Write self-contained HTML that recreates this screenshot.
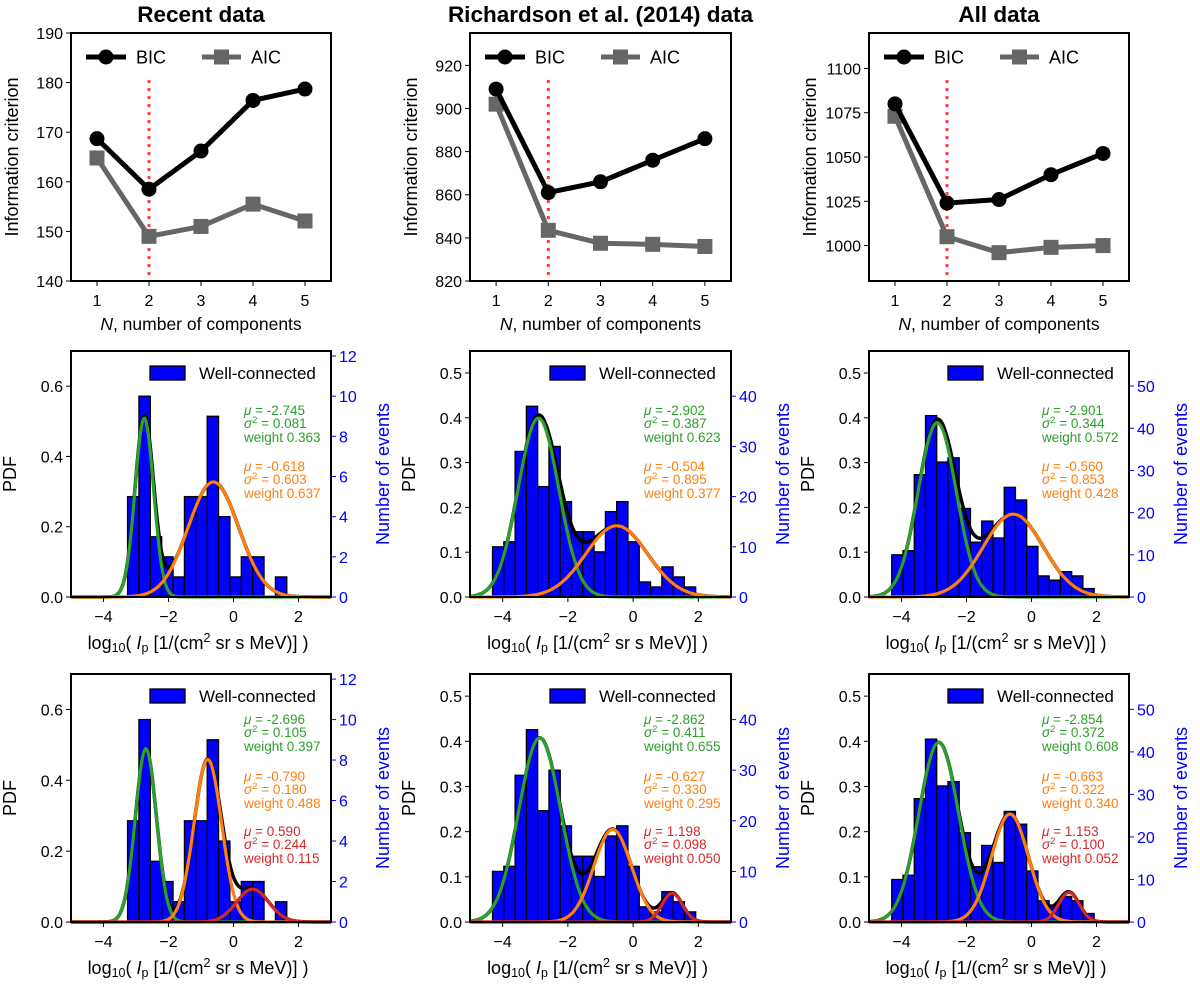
<!DOCTYPE html>
<html><head><meta charset="utf-8">
<style>
html,body{margin:0;padding:0;background:#fff;}
svg{display:block;font-family:"Liberation Sans",Arial,sans-serif;}
</style></head>
<body>
<svg id="fig" width="1200" height="985" viewBox="0 0 1200 985"></svg>
<script>
// ---------- data ----------
const titles = ["Recent data", "Richardson et al. (2014) data", "All data"];
const nComponents = [1, 2, 3, 4, 5];
const bicRecent = [168.7, 158.5, 166.2, 176.4, 178.7];
const aicRecent = [164.8, 149.0, 151.0, 155.5, 152.1];
const bicRich = [909, 861, 866, 876, 886];
const aicRich = [902, 843.5, 837.5, 837, 836];
const bicAll = [1080, 1024, 1026, 1040, 1052];
const aicAll = [1073, 1005, 996, 999, 1000];
const icTicksRecent = [140, 150, 160, 170, 180, 190];
const icTicksRich = [820, 840, 860, 880, 900, 920];
const icTicksAll = [1000, 1025, 1050, 1075, 1100];
const icRangeRecent = [140, 190];
const icRangeRich = [820, 935];
const icRangeAll = [980, 1120];
const bestN = [2, 2, 2];

const countsRecent = [5, 10, 3, 2, 1, 5, 5, 9, 4, 1, 2, 2, 0, 1];
const countsRich = [10, 11, 29, 38, 22, 30, 19, 13, 13, 9, 17, 19, 11, 3, 2, 6, 4, 2];
const countsAll = [10, 11, 29, 43, 32, 33, 21, 13, 18, 14, 26, 23, 12, 5, 4, 6, 5, 2];
const binStart = [-3.26, -4.31, -4.30];
const binWidth = [0.35, 0.346, 0.346];
const pdfTicksRecent = [0.0, 0.2, 0.4, 0.6];
const pdfTicksOther = [0.0, 0.1, 0.2, 0.3, 0.4, 0.5];
const pdfMax = [0.70, 0.549, 0.549];
const countTicksRecent = [0, 2, 4, 6, 8, 10, 12];
const countTicksRich = [0, 10, 20, 30, 40];
const countTicksAll = [0, 10, 20, 30, 40, 50];
const xTicks = [-4, -2, 0, 2];

// 2-component fits: [mu, sigma2, weight]
const fit2Recent = [[-2.745, 0.081, 0.363], [-0.618, 0.603, 0.637]];
const fit2Rich = [[-2.902, 0.387, 0.623], [-0.504, 0.895, 0.377]];
const fit2All = [[-2.901, 0.344, 0.572], [-0.560, 0.853, 0.428]];
// 3-component fits
const fit3Recent = [[-2.696, 0.105, 0.397], [-0.790, 0.180, 0.488], [0.590, 0.244, 0.115]];
const fit3Rich = [[-2.862, 0.411, 0.655], [-0.627, 0.330, 0.295], [1.198, 0.098, 0.050]];
const fit3All = [[-2.854, 0.372, 0.608], [-0.663, 0.322, 0.340], [1.153, 0.100, 0.052]];
const compColors = ["#2ca02c", "#ff7f0e", "#d62728"];

// ---------- layout ----------
const colX = [[71, 331], [470, 731], [869, 1129]];
const rowY = [[33, 281], [351, 597], [674, 922]];

const svg = document.getElementById('fig');
const NS = 'http://www.w3.org/2000/svg';
function mk(tag, attrs, name, parent) {
  const el = document.createElementNS(NS, tag);
  for (const k in attrs) el.setAttribute(k, attrs[k]);
  
  
  (parent || svg).appendChild(el);
  return el;
}
function txt(x, y, s, attrs, name, parent) {
  const a = Object.assign({x: x, y: y}, attrs || {});
  const t = mk('text', a, name, parent);
  t.textContent = s;
  return t;
}
function lin(d0, d1, r0, r1) { return v => r0 + (v - d0) / (d1 - d0) * (r1 - r0); }

// ---------- top row ----------
const bicSets = [bicRecent, bicRich, bicAll];
const aicSets = [aicRecent, aicRich, aicAll];
const icTicks = [icTicksRecent, icTicksRich, icTicksAll];
const icRanges = [icRangeRecent, icRangeRich, icRangeAll];
for (let c = 0; c < 3; c++) {
  const [L, R] = colX[c]; const [T, B] = rowY[0];
  const g = mk('g', {}, 'ic-panel-' + (c + 1));
  const xs = lin(0.5, 5.5, L, R);
  const ys = lin(icRanges[c][0], icRanges[c][1], B, T);
  txt((L + R) / 2, 22, titles[c], {'font-size': 22.5, 'font-weight': 'bold', 'text-anchor': 'middle'}, 'column-title', g);
  icTicks[c].forEach(v => {
    mk('line', {x1: L - 5, x2: L, y1: ys(v), y2: ys(v), stroke: '#000', 'stroke-width': 1}, 'y-tick', g);
    txt(L - 8, ys(v) + 6, String(v), {'font-size': 16, 'text-anchor': 'end'}, 'y-tick-label', g);
  });
  nComponents.forEach(n => {
    mk('line', {x1: xs(n), x2: xs(n), y1: B, y2: B + 5, stroke: '#000', 'stroke-width': 1}, 'x-tick', g);
    txt(xs(n), B + 25, String(n), {'font-size': 16, 'text-anchor': 'middle'}, 'x-tick-label', g);
  });
  const xl = txt((L + R) / 2, B + 49, '', {'font-size': 17.5, 'text-anchor': 'middle'}, 'x-axis-title', g);
  xl.innerHTML = '<tspan font-style="italic">N</tspan>, number of components';
  const yx = L - 53;
  txt(yx, (T + B) / 2, 'Information criterion', {'font-size': 18, 'text-anchor': 'middle', transform: 'rotate(-90 ' + yx + ' ' + (T + B) / 2 + ')'}, 'y-axis-title', g);
  mk('line', {x1: xs(bestN[c]), x2: xs(bestN[c]), y1: T + 47, y2: B, stroke: '#ff3b3b', 'stroke-width': 3, 'stroke-dasharray': '3,5'}, 'best-n-marker', g);
  const pA = nComponents.map((n, i) => xs(n) + ',' + ys(aicSets[c][i])).join(' ');
  mk('polyline', {points: pA, fill: 'none', stroke: '#666', 'stroke-width': 5}, 'aic-line', g);
  nComponents.forEach((n, i) => {
    mk('rect', {x: xs(n) - 7.5, y: ys(aicSets[c][i]) - 7.5, width: 15, height: 15, fill: '#666'}, 'aic-point', g);
  });
  const pB = nComponents.map((n, i) => xs(n) + ',' + ys(bicSets[c][i])).join(' ');
  mk('polyline', {points: pB, fill: 'none', stroke: '#000', 'stroke-width': 5}, 'bic-line', g);
  nComponents.forEach((n, i) => {
    mk('circle', {cx: xs(n), cy: ys(bicSets[c][i]), r: 7.5, fill: '#000'}, 'bic-point', g);
  });
  const ly = T + 24;
  mk('line', {x1: L + 15, x2: L + 55, y1: ly, y2: ly, stroke: '#000', 'stroke-width': 5}, 'legend-bic-line', g);
  mk('circle', {cx: L + 35, cy: ly, r: 7.5, fill: '#000'}, 'legend-bic-marker', g);
  txt(L + 65, ly + 6.5, 'BIC', {'font-size': 18}, 'legend-bic-label', g);
  mk('line', {x1: L + 131, x2: L + 170, y1: ly, y2: ly, stroke: '#666', 'stroke-width': 5}, 'legend-aic-line', g);
  mk('rect', {x: L + 143, y: ly - 7.5, width: 15, height: 15, fill: '#666'}, 'legend-aic-marker', g);
  txt(L + 180, ly + 6.5, 'AIC', {'font-size': 18}, 'legend-aic-label', g);
  mk('rect', {x: L, y: T, width: R - L, height: B - T, fill: 'none', stroke: '#000', 'stroke-width': 2}, 'plot-frame', g);
}

// ---------- histogram rows ----------
const countSets = [countsRecent, countsRich, countsAll];
const pdfTicks = [pdfTicksRecent, pdfTicksOther, pdfTicksOther];
const countTicks = [countTicksRecent, countTicksRich, countTicksAll];
const fits = [[fit2Recent, fit2Rich, fit2All], [fit3Recent, fit3Rich, fit3All]];
const annTop = [[60, 116], [46, 103, 158]];
function gauss(x, m, s2) { return Math.exp(-(x - m) * (x - m) / (2 * s2)) / Math.sqrt(2 * Math.PI * s2); }

for (let r = 0; r < 2; r++) {
  for (let c = 0; c < 3; c++) {
    const [L, R] = colX[c]; const [T, B] = rowY[r + 1];
    const g = mk('g', {}, 'hist-panel-' + (r + 2) + '-' + (c + 1));
    const xs = lin(-5, 3, L, R);
    const ys = lin(0, pdfMax[c], B, T);
    const counts = countSets[c];
    const N = counts.reduce((a, b) => a + b, 0);
    const w = binWidth[c];
    counts.forEach((n, i) => {
      if (n === 0) return;
      const x0 = binStart[c] + i * w;
      const d = n / (N * w);
      mk('rect', {x: xs(x0), y: ys(d), width: xs(x0 + w) - xs(x0), height: B - ys(d), fill: '#0000ff', stroke: '#000', 'stroke-width': 1.3}, 'hist-bar', g);
    });
    const fit = fits[r][c];
    const ptsTot = [];
    const ptsC = fit.map(() => []);
    for (let k = 0; k <= 240; k++) {
      const x = -5 + 8 * k / 240;
      let tot = 0;
      fit.forEach((p, j) => { const v = p[2] * gauss(x, p[0], p[1]); tot += v; ptsC[j].push(xs(x).toFixed(1) + ',' + ys(v).toFixed(1)); });
      ptsTot.push(xs(x).toFixed(1) + ',' + ys(tot).toFixed(1));
    }
    mk('polyline', {points: ptsTot.join(' '), fill: 'none', stroke: '#000', 'stroke-width': 3.5}, 'total-fit-curve', g);
    fit.forEach((p, j) => {
      mk('polyline', {points: ptsC[j].join(' '), fill: 'none', stroke: compColors[j], 'stroke-width': 3.2}, 'component-curve-' + (j + 1), g);
    });
    pdfTicks[c].forEach(v => {
      mk('line', {x1: L - 5, x2: L, y1: ys(v), y2: ys(v), stroke: '#000'}, 'y-tick', g);
      txt(L - 8, ys(v) + 6, v.toFixed(1), {'font-size': 16, 'text-anchor': 'end'}, 'y-tick-label', g);
    });
    countTicks[c].forEach(v => {
      const yy = ys(v / (N * w));
      mk('line', {x1: R, x2: R + 5, y1: yy, y2: yy, stroke: '#0000ff'}, 'right-tick', g);
      txt(R + 8, yy + 6, String(v), {'font-size': 16, fill: '#0000ff'}, 'right-tick-label', g);
    });
    xTicks.forEach(v => {
      mk('line', {x1: xs(v), x2: xs(v), y1: B, y2: B + 5, stroke: '#000'}, 'x-tick', g);
      txt(xs(v), B + 25, v < 0 ? '\u2212' + Math.abs(v) : String(v), {'font-size': 16, 'text-anchor': 'middle'}, 'x-tick-label', g);
    });
    const xl = txt((L + R) / 2 - 3, B + 52, '', {'font-size': 18, 'text-anchor': 'middle'}, 'x-axis-title', g);
    xl.innerHTML = 'log<tspan font-size="12.5" dy="3">10</tspan><tspan dy="-3">( </tspan><tspan font-style="italic">I</tspan><tspan font-size="12.5" dy="3">p</tspan><tspan dy="-3"> [1/(cm</tspan><tspan font-size="12.5" dy="-7">2</tspan><tspan dy="7"> sr s MeV)] )</tspan>';
    const ly = L - 55;
    txt(ly, (T + B) / 2, 'PDF', {'font-size': 18, 'text-anchor': 'middle', transform: 'rotate(-90 ' + ly + ' ' + (T + B) / 2 + ')'}, 'y-axis-title', g);
    const ry = R + 58;
    txt(ry, (T + B) / 2, 'Number of events', {'font-size': 18, fill: '#0000ff', 'text-anchor': 'middle', transform: 'rotate(-90 ' + ry + ' ' + (T + B) / 2 + ')'}, 'right-axis-title', g);
    mk('rect', {x: R - 181, y: T + 15, width: 35, height: 14, fill: '#0000ff', stroke: '#000', 'stroke-width': 1.3}, 'legend-patch', g);
    txt(R - 132, T + 28, 'Well-connected', {'font-size': 17}, 'legend-label', g);
    fit.forEach((p, j) => {
      const y0 = T + annTop[r][j];
      const col = compColors[j];
      const t1 = txt(R - 87, y0 + 4, '', {'font-size': 13.5, fill: col}, 'fit-mu', g);
      t1.innerHTML = '<tspan font-style="italic">\u03bc</tspan> = ' + p[0].toFixed(3);
      const t2 = txt(R - 87, y0 + 17, '', {'font-size': 13.5, fill: col}, 'fit-sigma2', g);
      t2.innerHTML = '<tspan font-style="italic">\u03c3</tspan><tspan font-size="9.5" dy="-5">2</tspan><tspan dy="5"> = ' + p[1].toFixed(3) + '</tspan>';
      txt(R - 87, y0 + 31, 'weight ' + p[2].toFixed(3), {'font-size': 13.5, fill: col}, 'fit-weight', g);
    });
    mk('rect', {x: L, y: T, width: R - L, height: B - T, fill: 'none', stroke: '#000', 'stroke-width': 2}, 'plot-frame', g);
  }
}
</script>
</body></html>
